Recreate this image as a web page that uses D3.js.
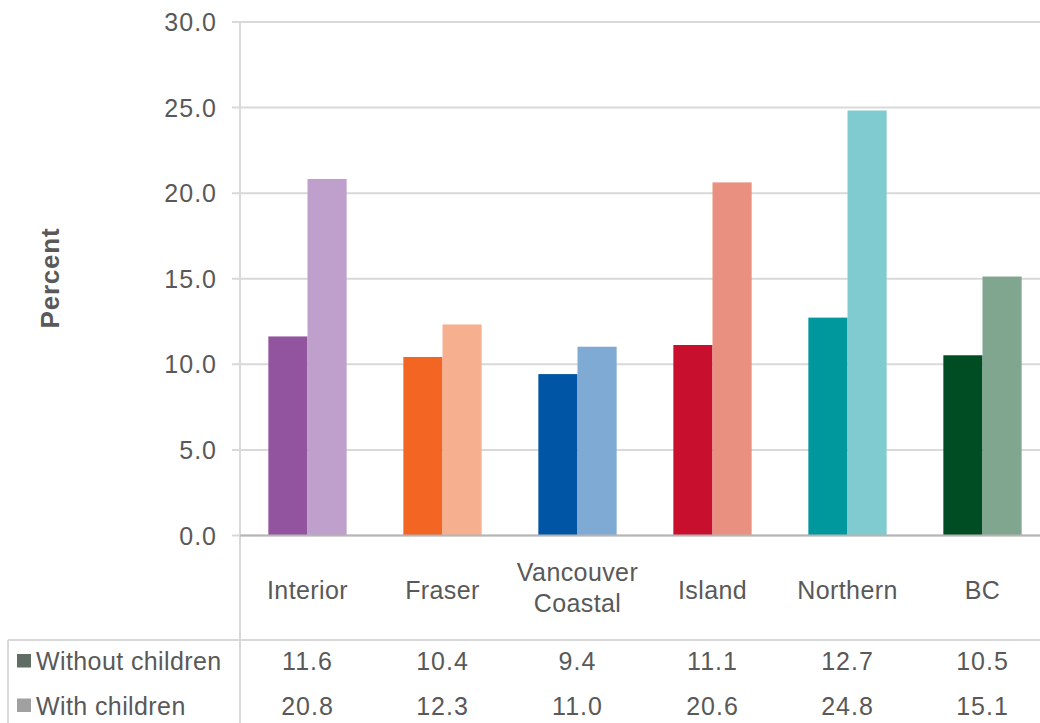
<!DOCTYPE html>
<html>
<head>
<meta charset="utf-8">
<script src="https://cdn.jsdelivr.net/npm/d3@7"></script>
<style>
  html, body { margin: 0; padding: 0; background: #fff; }
  svg text { font-family: "Liberation Sans", Arial, Helvetica, sans-serif; fill: #595959; }
</style>
</head>
<body>
<svg id="chart" width="1040" height="723"></svg>
<script>
// Share of households (percent) by health authority, split by presence of children
const categories = ["Interior", "Fraser", "Vancouver Coastal", "Island", "Northern", "BC"];
const seriesNames = ["Without children", "With children"];
const withoutChildren = [11.6, 10.4, 9.4, 11.1, 12.7, 10.5];
const withChildren = [20.8, 12.3, 11.0, 20.6, 24.8, 15.1];
const yTicks = [0, 5, 10, 15, 20, 25, 30];

// Each region has its own hue: a strong shade and a light shade
const darkColors = ["#92549f", "#f26522", "#0055a4", "#c8102e", "#00979d", "#004c23"];
const lightColors = ["#bf9fcb", "#f6b08f", "#7faad4", "#ea9080", "#80cbcf", "#80a68f"];
const keyColors = ["#5f6d65", "#a0a0a0"];

const svg = d3.select("#chart");
const W = 1040, H = 723;
const plotLeft = 240, plotRight = 1050, plotTop = 21.5, plotBottom = 535;
const gridColor = "#d9d9d9";
const fontSize = 25;
const numSpacing = "1px";
const wordSpacing = "0.4px";

const y = d3.scaleLinear().domain([0, 30]).range([plotBottom, plotTop]);
const x0 = d3.scaleBand().domain(categories).range([plotLeft, plotRight])
  .paddingInner(0.42).paddingOuter(0.21);
const x1 = d3.scaleBand().domain(seriesNames).range([0, x0.bandwidth()]).padding(0);

// Horizontal gridlines with the value labels on the left
const yAxis = d3.axisLeft(y)
  .tickValues(yTicks)
  .tickFormat(d3.format(".1f"))
  .tickSize(-(W - 232))
  .tickPadding(15);

const gy = svg.append("g")
  .attr("transform", "translate(232,0)")
  .call(yAxis);
gy.select(".domain").remove();
gy.selectAll(".tick line").attr("stroke", gridColor).attr("stroke-width", 2);
gy.selectAll(".tick text")
  .attr("font-size", fontSize)
  .attr("letter-spacing", numSpacing)
  .attr("fill", "#595959")
  .attr("dy", "0.36em");

// Vertical axis line running down through the data table
svg.append("line")
  .attr("x1", plotLeft).attr("x2", plotLeft)
  .attr("y1", plotTop).attr("y2", H)
  .attr("stroke", gridColor).attr("stroke-width", 2);

// Bars
const groups = svg.append("g").selectAll("g")
  .data(categories)
  .join("g")
  .attr("transform", d => `translate(${x0(d)},0)`);

groups.each(function (cat, i) {
  const vals = [withoutChildren[i], withChildren[i]];
  const cols = [darkColors[i], lightColors[i]];
  d3.select(this).selectAll("rect")
    .data(seriesNames)
    .join("rect")
    .attr("x", s => x1(s))
    .attr("width", x1.bandwidth())
    .attr("y", (s, j) => y(vals[j]))
    .attr("height", (s, j) => y(0) - y(vals[j]) + 1)
    .attr("fill", (s, j) => cols[j]);
});

// Zero baseline
svg.append("line")
  .attr("x1", plotLeft).attr("x2", W)
  .attr("y1", y(0) + 0.5).attr("y2", y(0) + 0.5)
  .attr("stroke", "#b5b5b5").attr("stroke-width", 2);

// Category labels (two-word names wrap to two lines)
const catLabels = svg.append("g").selectAll("text")
  .data(categories)
  .join("text")
  .attr("text-anchor", "middle")
  .attr("font-size", fontSize)
  .attr("letter-spacing", wordSpacing)
  .attr("x", d => x0(d) + x0.bandwidth() / 2);

catLabels.each(function (d) {
  const words = d.split(" ");
  const t = d3.select(this);
  const cx = x0(d) + x0.bandwidth() / 2;
  if (words.length === 1) {
    t.append("tspan").attr("x", cx).attr("y", 599).text(d);
  } else {
    words.forEach((w, k) => {
      t.append("tspan").attr("x", cx).attr("y", 581 + k * 30.5).text(w);
    });
  }
});

// Data table borders
svg.append("line")
  .attr("x1", 8).attr("x2", W)
  .attr("y1", 640).attr("y2", 640)
  .attr("stroke", gridColor).attr("stroke-width", 2);
svg.append("line")
  .attr("x1", 8).attr("x2", 8)
  .attr("y1", 640).attr("y2", H)
  .attr("stroke", gridColor).attr("stroke-width", 2);

// Data table rows: key swatch, series name, values per category
const rowBaselines = [670, 714.5];
const rowValues = [withoutChildren, withChildren];

seriesNames.forEach((name, r) => {
  const by = rowBaselines[r];
  svg.append("rect")
    .attr("x", 17).attr("y", by - 16)
    .attr("width", 14).attr("height", 13.5)
    .attr("fill", keyColors[r]);
  svg.append("text")
    .attr("x", 36).attr("y", by)
    .attr("font-size", fontSize)
    .attr("letter-spacing", wordSpacing)
    .text(name);
  svg.append("g").selectAll("text")
    .data(categories)
    .join("text")
    .attr("x", d => x0(d) + x0.bandwidth() / 2)
    .attr("y", by)
    .attr("text-anchor", "middle")
    .attr("font-size", fontSize)
    .attr("letter-spacing", numSpacing)
    .text((d, i) => d3.format(".1f")(rowValues[r][i]));
});

// Y axis title
svg.append("text")
  .attr("transform", "translate(59,278) rotate(-90)")
  .attr("text-anchor", "middle")
  .attr("font-size", 26)
  .attr("font-weight", "bold")
  .attr("letter-spacing", "0.8px")
  .text("Percent");
</script>
</body>
</html>
